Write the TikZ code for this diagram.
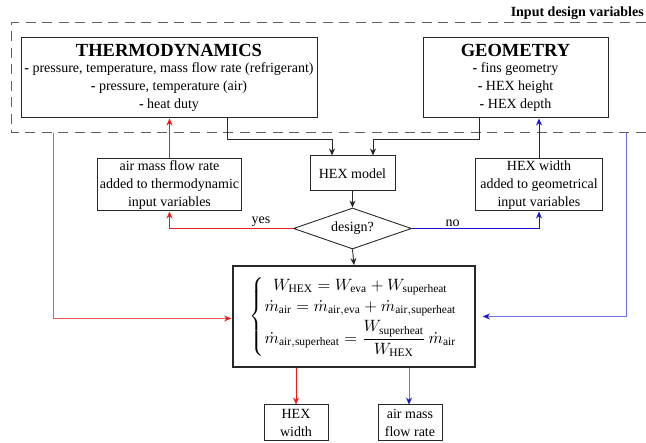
\documentclass[tikz,border=0pt]{standalone}
\usepackage{amsmath}
\usepackage{graphicx}
\usepackage{fontspec}
\setmainfont{Liberation Serif}
\usetikzlibrary{arrows.meta,shapes.geometric}
\definecolor{boxgray}{RGB}{40,40,40}
\definecolor{dashgray}{RGB}{95,95,95}
\definecolor{myred}{RGB}{228,30,30}
\definecolor{myredlt}{RGB}{238,85,85}
\definecolor{myblue}{RGB}{20,20,210}
\definecolor{mybluelt}{RGB}{110,110,232}
\tikzset{
  box/.style={draw=boxgray, line width=1pt, inner sep=1pt, align=center,
    font=\fontsize{14}{18}\selectfont},
  eqbox/.style={draw=boxgray, line width=1.7pt, inner sep=0pt},
  dia/.style={draw=boxgray, line width=0.9pt, diamond, aspect=2.9, inner sep=0pt,
    minimum width=118pt, minimum height=41pt, font=\fontsize{14}{16}\selectfont},
  tip/.style={-{Stealth[length=7pt,width=6pt,inset=2.2pt]}},
  blk/.style={tip, draw=boxgray, line width=0.9pt},
  redl/.style={tip, draw=myred, line width=1pt},
  redlt/.style={tip, draw=myredlt, line width=1pt, -{Stealth[length=7pt,width=6pt,inset=2.2pt,color=myred]}},
  bluel/.style={tip, draw=myblue, line width=1pt},
  bluelt/.style={tip, draw=mybluelt, line width=1pt, -{Stealth[length=7pt,width=6pt,inset=2.2pt,color=myblue]}},
  dashbox/.style={draw=dashgray, line width=1pt, dash pattern=on 10pt off 6.5pt},
  lbl/.style={font=\fontsize{14}{16}\selectfont, inner sep=1.5pt}
}
\newcommand{\bdash}{\textbf{-}~}
\begin{document}
\begin{tikzpicture}[x=1pt,y=-1pt]
\useasboundingbox (0,0) rectangle (646,443);
% dashed frame of design variables
\coordinate (dtr) at (646,23);
\coordinate (dtl) at (11,23);
\coordinate (dbl) at (11,133);
\coordinate (dbr) at (646,133);
\draw[dashbox] (dtr) -- (dtl) -- (dbl) -- (dbr);
\node[anchor=base east, font=\bfseries\fontsize{14}{16}\selectfont, inner sep=0pt] (idv) at (644,17) {Input design variables};

% top boxes
\node[box, minimum width=296pt, minimum height=80pt] (thermo) at (169,78)
  {{\bfseries\fontsize{18.5}{22}\selectfont THERMODYNAMICS}\\[-2pt]
   \bdash pressure, temperature, mass flow rate (refrigerant)\\
   \bdash pressure, temperature (air)\\
   \bdash heat duty};
\node[box, minimum width=185pt, minimum height=80pt] (geo) at (515.5,78)
  {{\bfseries\fontsize{18.5}{22}\selectfont GEOMETRY}\\[-2pt]
   \bdash fins geometry\\
   \bdash HEX height\\
   \bdash HEX depth};

% middle
\node[box, minimum width=144pt, minimum height=52pt] (amass) at (169.5,185)
  {air mass flow rate\\added to thermodynamic\\input variables};
\node[box, minimum width=127pt, minimum height=52pt] (hexw) at (539,185)
  {HEX width\\added to geometrical\\input variables};
\node[box, minimum width=85pt, minimum height=35pt] (hexm) at (352.5,173.5) {HEX model};
\node[dia] (des) at (352.5,228.5) {design?};

% equation box
\node[eqbox, minimum width=242pt, minimum height=101pt] (eq) at (354,316.5)
  {\scalebox{1.64}{%
   $\left\{\begin{gathered}
     W_{\mathrm{HEX}} = W_{\mathrm{eva}} + W_{\mathrm{superheat}}\\[-2pt]
     \dot m_{\mathrm{air}} = \dot m_{\mathrm{air,eva}} + \dot m_{\mathrm{air,superheat}}\\[-2pt]
     \dot m_{\mathrm{air,superheat}} = \frac{W_{\mathrm{superheat}}}{W_{\mathrm{HEX}}}\,\dot m_{\mathrm{air}}
   \end{gathered}\right.$}};

% outputs
\node[box, minimum width=64pt, minimum height=36pt] (outw) at (296,423) {HEX\\width};
\node[box, minimum width=64pt, minimum height=36pt] (outa) at (410,423) {air mass\\flow rate};

% black connectors
\coordinate (tdrop) at ([xshift=-90pt]thermo.south east);
\coordinate (gdrop) at ([xshift=-129pt]geo.south east);
\draw[blk] (tdrop) |- ([xshift=-20.5pt]hexm.north |- 0,139) -- ([xshift=-20.5pt]hexm.north);
\draw[blk] (gdrop) |- ([xshift=20.5pt]hexm.north |- 0,139) -- ([xshift=20.5pt]hexm.north);
\draw[blk] (hexm.south) -- (des.north);
\draw[blk] (des.south) -- (eq.north);

% decision branches
\draw[redl] (des.west) -| (amass.south) node[pos=0.13, lbl, above] {yes};
\draw[bluel] (des.east) -| (hexw.south) node[pos=0.16, lbl, above] {no};
\draw[redl] (amass.north) -- (amass.north |- thermo.south);
\draw[bluel] (hexw.north) -- (hexw.north |- geo.south);

% long feed lines
\coordinate (rstart) at (53,133);
\coordinate (bstart) at (626,133);
\draw[redlt] (rstart) |- ([xshift=-1pt,yshift=-2pt]eq.west);
\draw[bluelt] (bstart) |- ([xshift=7pt]eq.east);

% outputs
\draw[redl] (outw.north |- eq.south) -- (outw.north);
\draw[bluelt] ([xshift=-1pt]outa.north |- eq.south) -- ([xshift=-1pt]outa.north);
\end{tikzpicture}
\end{document}
